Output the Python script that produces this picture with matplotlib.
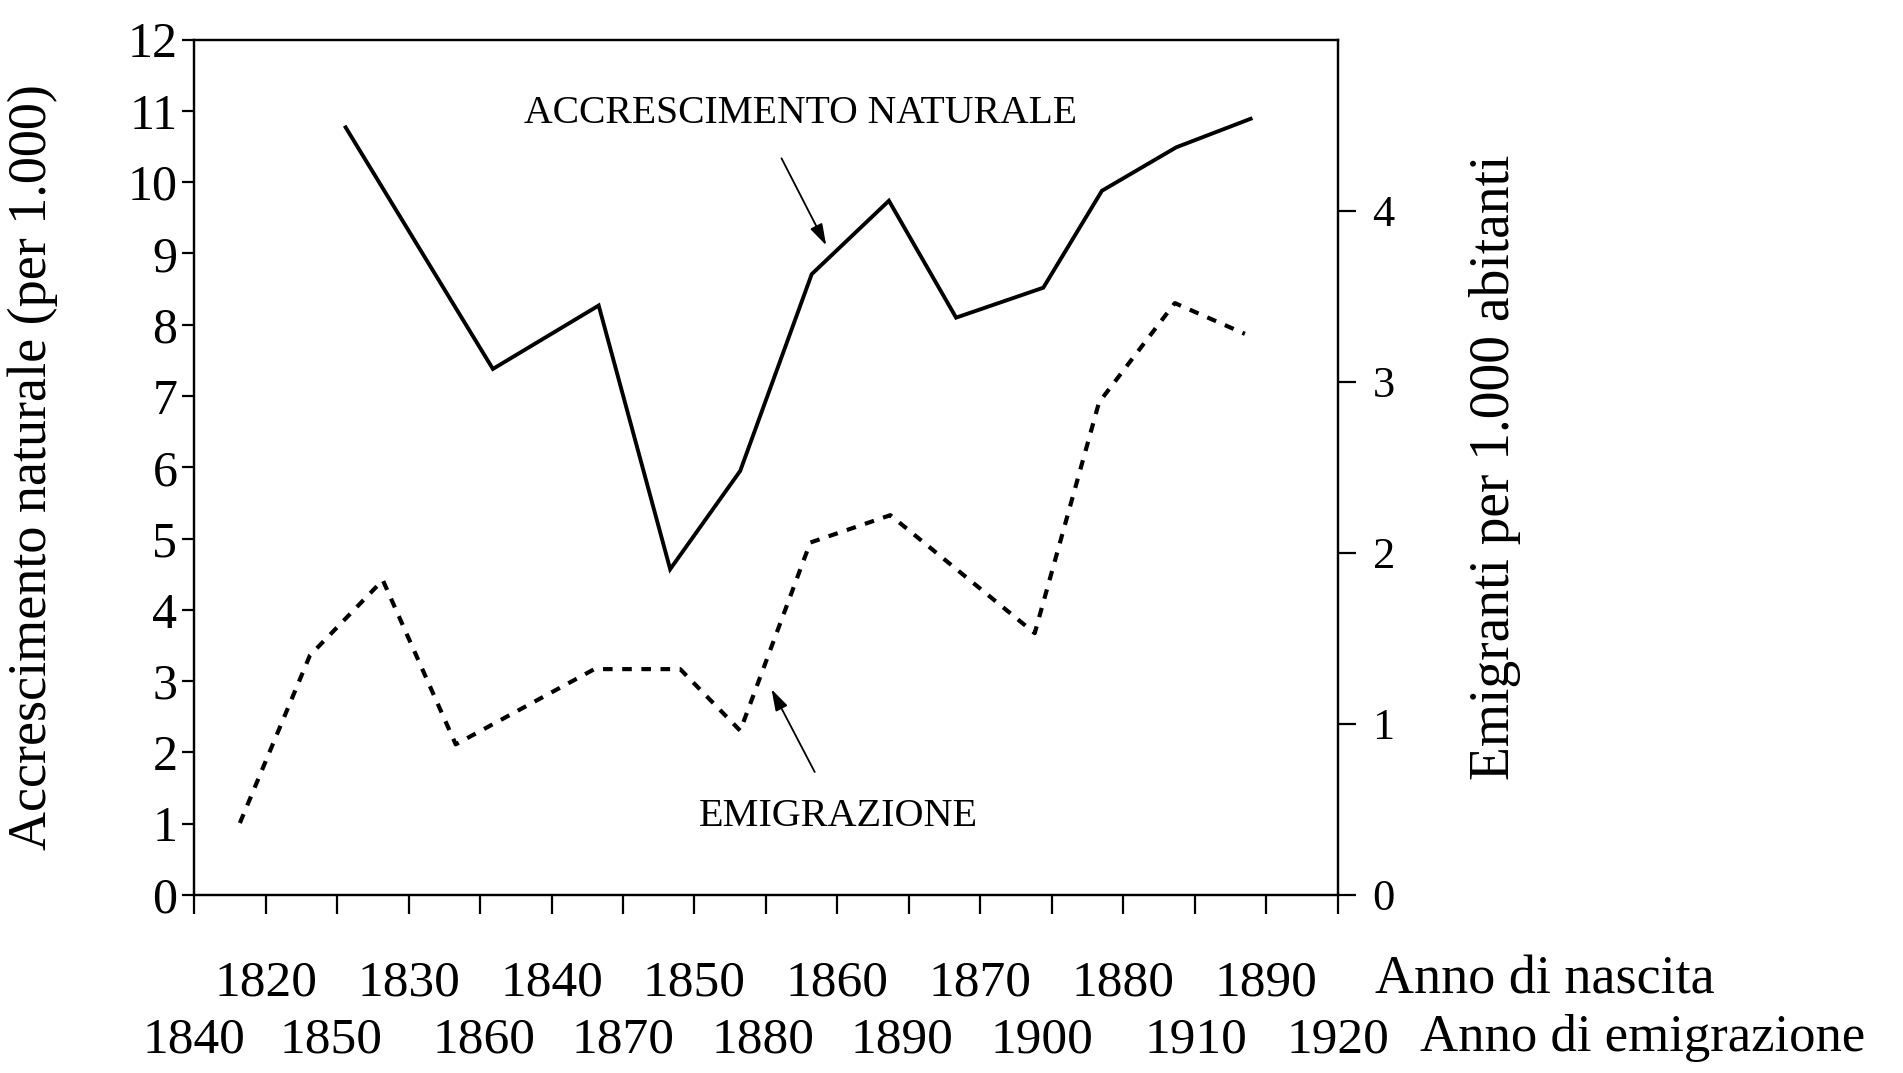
import matplotlib.pyplot as plt
import matplotlib.transforms as mtransforms

plt.rcParams['font.family'] = ['Liberation Serif', 'DejaVu Serif']

# data (x = anno di nascita)
nat_years = [1825.6, 1835.9, 1843.3, 1848.3, 1853.2, 1858.2, 1863.6, 1868.3, 1874.4, 1878.5, 1883.7, 1888.9]
nat_vals = [10.77, 7.38, 8.27, 4.57, 5.95, 8.71, 9.74, 8.10, 8.52, 9.88, 10.49, 10.89]

emi_years = [1818.2, 1823.1, 1828.2, 1833.3, 1843.0, 1849.0, 1853.2, 1858.1, 1863.7, 1873.8, 1878.3, 1883.6, 1888.5]
emi_vals = [0.42, 1.40, 1.84, 0.88, 1.32, 1.32, 0.96, 2.06, 2.22, 1.53, 2.88, 3.46, 3.28]

birth_ticks = list(range(1815, 1900, 5))
birth_labels = [1820, 1830, 1840, 1850, 1860, 1870, 1880, 1890]
emig_labels = [1840, 1850, 1860, 1870, 1880, 1890, 1900, 1910, 1920]
# where the second row of labels sits (in birth-year units, as printed)
emig_label_pos = [1815, 1824.6, 1835.3, 1845.0, 1854.8, 1864.5, 1874.3, 1885.1, 1895]

fig = plt.figure(figsize=(19.03, 10.73), dpi=100)
ax = fig.add_axes([0.102, 0.166, 0.601, 0.797])
ax2 = ax.twinx()

ax.plot(nat_years, nat_vals, color='black', lw=2.8, solid_joinstyle='miter')
ax2.plot(emi_years, emi_vals, color='black', lw=3.0, linestyle=(0, (2.3, 2.3)))

ax.set_xlim(1815, 1895)
ax.set_ylim(0, 12)
ax2.set_ylim(0, 5)

ax.set_yticks(range(0, 13))
ax.set_xticks(birth_ticks)
ax.set_xticklabels([])
ax2.set_yticks(range(0, 5))

for a in (ax, ax2):
    for s in a.spines.values():
        s.set_linewidth(1.6)
ax.tick_params(axis='y', direction='out', length=9, width=1.6, pad=3, labelsize=36)
ax.tick_params(axis='x', direction='out', length=14, width=1.6)
ax2.tick_params(axis='y', direction='out', length=13, width=1.6, pad=12, labelsize=32)

ax.set_ylabel('Accrescimento naturale (per 1.000)', fontsize=39)
ax.yaxis.set_label_coords(-0.119, 0.5)
ax2.set_ylabel('Emigranti per 1.000 abitanti', fontsize=40)
ax2.yaxis.set_label_coords(1.115, 0.5)

# two rows of year labels under the x axis
trans = mtransforms.blended_transform_factory(ax.transData, ax.transAxes)
for yr in birth_labels:
    ax.text(yr, -0.103, str(yr), transform=trans, ha='center', va='center', fontsize=37, clip_on=False)
for pos, yr in zip(emig_label_pos, emig_labels):
    ax.text(pos, -0.170, str(yr), transform=trans, ha='center', va='center', fontsize=37, clip_on=False)
fig.text(0.7226, 0.086, 'Anno di nascita', ha='left', va='center', fontsize=39)
fig.text(0.746, 0.033, 'Anno di emigrazione', ha='left', va='center', fontsize=38)

# series annotations
arrow = dict(arrowstyle='-|>,head_length=1.3,head_width=0.4', color='black', lw=1.3)
ax.text(1857.4, 10.97, 'ACCRESCIMENTO NATURALE', ha='center', va='center', fontsize=28.5)
ax.annotate('', xy=(1859.3, 9.08), xytext=(1856.0, 10.37), arrowprops=arrow)
ax.text(1860.1, 1.1, 'EMIGRAZIONE', ha='center', va='center', fontsize=29)
ax.annotate('', xy=(1855.3, 2.92), xytext=(1858.5, 1.69), arrowprops=arrow)

fig.savefig('out.png', dpi=100)
